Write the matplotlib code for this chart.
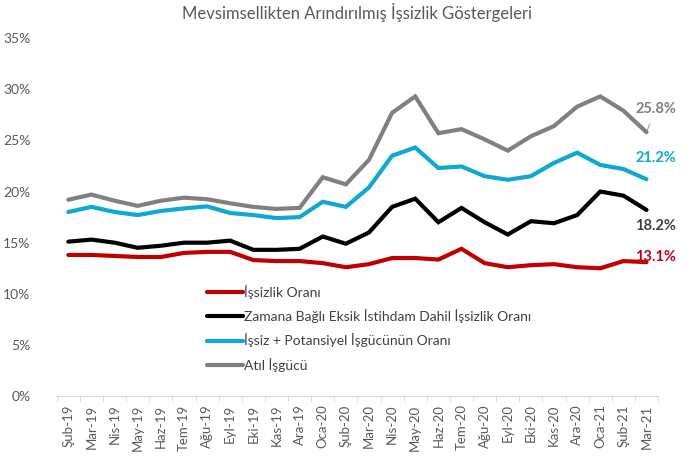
import numpy as np
import matplotlib.pyplot as plt

plt.rcParams['font.family'] = ['Lato', 'DejaVu Sans']

months = ['Şub-19', 'Mar-19', 'Nis-19', 'May-19', 'Haz-19', 'Tem-19', 'Ağu-19',
          'Eyl-19', 'Eki-19', 'Kas-19', 'Ara-19', 'Oca-20', 'Şub-20', 'Mar-20',
          'Nis-20', 'May-20', 'Haz-20', 'Tem-20', 'Ağu-20', 'Eyl-20', 'Eki-20',
          'Kas-20', 'Ara-20', 'Oca-21', 'Şub-21', 'Mar-21']

issizlik = [13.8, 13.8, 13.7, 13.6, 13.6, 14.0, 14.1, 14.1, 13.3, 13.2, 13.2, 13.0,
            12.6, 12.9, 13.5, 13.5, 13.35, 14.4, 13.0, 12.6, 12.8, 12.9, 12.6, 12.5,
            13.2, 13.1]
zamana = [15.1, 15.3, 15.0, 14.5, 14.7, 15.0, 15.0, 15.2, 14.3, 14.3, 14.4, 15.6,
          14.9, 16.0, 18.5, 19.3, 17.0, 18.4, 17.0, 15.8, 17.1, 16.9, 17.7, 20.0,
          19.6, 18.2]
potansiyel = [18.0, 18.5, 18.0, 17.7, 18.1, 18.35, 18.55, 17.9, 17.7, 17.4, 17.5, 19.0,
              18.5, 20.4, 23.5, 24.3, 22.3, 22.45, 21.5, 21.15, 21.5, 22.8, 23.8, 22.6,
              22.2, 21.2]
atil = [19.2, 19.7, 19.1, 18.6, 19.1, 19.4, 19.25, 18.85, 18.5, 18.3, 18.4, 21.4,
        20.7, 23.1, 27.7, 29.3, 25.7, 26.1, 25.1, 24.0, 25.4, 26.4, 28.3, 29.3,
        27.9, 25.8]

names = ['İşsizlik Oranı', 'Zamana Bağlı Eksik İstihdam Dahil İşsizlik Oranı',
         'İşsiz + Potansiyel İşgücünün Oranı', 'Atıl İşgücü']
colors = ['#C00000', '#000000', '#0FA8D2', '#808080']
label_colors = ['#C0001A', '#404040', '#0FA8D2', '#7F7F7F']

fig = plt.figure(figsize=(6.92, 4.59), dpi=100)
ax = fig.add_axes([0.082, 0.137, 0.869, 0.78])

x = np.arange(len(months))
series = [issizlik, zamana, potansiyel, atil]
for s, c, n in zip(series, colors, names):
    ax.plot(x, s, color=c, lw=3.0, label=n, solid_capstyle='round', solid_joinstyle='miter')

ax.set_xlim(-0.5, len(months) - 0.5)
ax.set_ylim(0, 35)
ax.set_yticks(np.arange(0, 36, 5))
ax.set_yticklabels([f'{v}%' for v in range(0, 36, 5)])
ax.set_xticks(x)
ax.set_xticklabels(months, rotation=90)
ax.set_xticks(np.arange(-0.5, len(months), 1), minor=True)
ax.tick_params(axis='x', which='major', length=0, pad=6, labelsize=9.5, colors='#595959')
ax.tick_params(axis='x', which='minor', length=4, color='#D9D9D9')
ax.tick_params(axis='y', length=0, pad=19, labelsize=10, colors='#595959')

for sp in ['top', 'right', 'left']:
    ax.spines[sp].set_visible(False)
ax.spines['bottom'].set_color('#D9D9D9')

ax.set_title('Mevsimsellikten Arındırılmış İşsizlik Göstergeleri', fontsize=12,
             color='#595959', pad=14)

# son değer etiketleri
last = len(months) - 1
ax.annotate(f'{atil[-1]:.1f}%', xy=(last, atil[-1]), xytext=(last + 0.4, atil[-1] + 2.3),
            fontsize=10.5, fontweight='bold', color=label_colors[3], va='center', ha='center',
            arrowprops=dict(arrowstyle='-', color='#A6A6A6', lw=0.8, shrinkA=4, shrinkB=2))
ax.text(last + 0.4, potansiyel[-1] + 2.1, f'{potansiyel[-1]:.1f}%', fontsize=10.5,
        fontweight='bold', color=label_colors[2], va='center', ha='center')
ax.text(last + 0.4, zamana[-1] - 1.6, f'{zamana[-1]:.1f}%', fontsize=10.5,
        fontweight='bold', color=label_colors[1], va='center', ha='center')
ax.text(last + 0.4, issizlik[-1] + 0.5, f'{issizlik[-1]:.1f}%', fontsize=10.5,
        fontweight='bold', color=label_colors[0], va='center', ha='center')

leg = ax.legend(loc='upper left', bbox_to_anchor=(0.24, 0.327), frameon=False,
                fontsize=10, handlelength=2.6, handletextpad=0.1, labelspacing=0.75,
                borderaxespad=0)
for t in leg.get_texts():
    t.set_color('#404040')

fig.savefig('out.png', dpi=100)
